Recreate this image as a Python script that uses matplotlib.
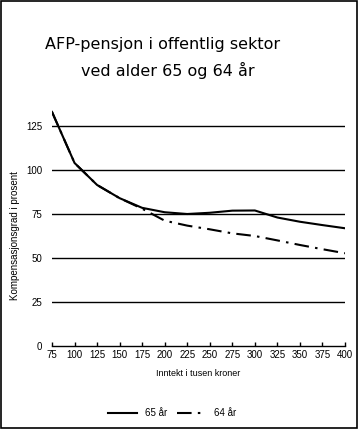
import matplotlib
matplotlib.use("Agg")
import matplotlib.pyplot as plt
from matplotlib.patches import Rectangle

plt.rcParams['font.family'] = ['Liberation Sans', 'DejaVu Sans']

inntekt = [75, 100, 125, 150, 175, 200, 225, 250, 275, 300, 325, 350, 375, 400]
alder65 = [133, 104, 91.5, 84, 78.5, 76, 75, 75.7, 76.9, 77, 73, 70.6, 68.7, 66.9]
alder64 = [133, 104, 91.5, 84, 78, 71.2, 68.4, 66.3, 64, 62.5, 60, 57.4, 55, 52.7]
xticks = list(range(75, 401, 25))
yticks = [0, 25, 50, 75, 100, 125]

W, H = 360, 429
fig = plt.figure(figsize=(W / 100, H / 100), dpi=100)
fig.patches.append(Rectangle((1 / W, 1 / H), 356 / W, 427 / H, transform=fig.transFigure,
                             fill=False, edgecolor='black', linewidth=1.2))

ax = fig.add_axes([52 / W, 83 / H, 293 / W, 237.6 / H])
ax.set_xlim(75, 400)
ax.set_ylim(0, 135)
for y in yticks[1:]:
    ax.axhline(y, color='black', linewidth=1.0, zorder=1)

ax.plot(inntekt, alder65, color='black', linewidth=1.5, label='65 år', zorder=3)
ax.plot(inntekt, alder64, color='black', linewidth=1.5, dashes=(7, 3, 1.2, 3),
        label='64 år', zorder=3)

for s in ['top', 'right', 'left']:
    ax.spines[s].set_visible(False)
ax.spines['bottom'].set_linewidth(1.0)
ax.set_xticks(xticks)
ax.set_yticks(yticks)
ax.tick_params(axis='x', direction='in', length=3, width=1, labelsize=7, pad=3)
ax.tick_params(axis='y', length=0, labelsize=7, pad=7)

ax.set_xlabel('Inntekt i tusen kroner', fontsize=6.5, labelpad=6)
fig.text(15 / W, 1 - 236 / H, 'Kompensasjonsgrad i prosent', rotation=90,
         ha='center', va='center', fontsize=7)

fig.text(163 / W, 1 - 44 / H, 'AFP-pensjon i offentlig sektor', ha='center', va='center',
         fontsize=11.5, family=['DejaVu Sans'])
fig.text(168 / W, 1 - 70 / H, 'ved alder 65 og 64 år', ha='center', va='center',
         fontsize=11.5, family=['DejaVu Sans'])

fig.legend(loc='center', bbox_to_anchor=(172 / W, 1 - 413 / H), ncol=2, frameon=False,
           fontsize=7, handlelength=3, columnspacing=1.0, handletextpad=0.8)

fig.savefig('out.png', dpi=100)
